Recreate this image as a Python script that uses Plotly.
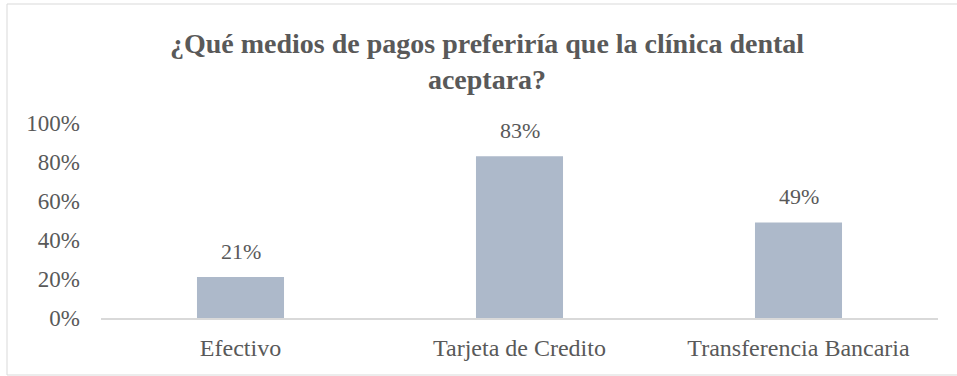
import plotly.graph_objects as go

categories = ["Efectivo", "Tarjeta de Credito", "Transferencia Bancaria"]
values = [0.21, 0.83, 0.49]
labels = ["21%", "83%", "49%"]
title_text = "<b>¿Qué medios de pagos preferiría que la clínica dental<br>aceptara?</b>"

W, H = 957, 376
L, R, T, B = 101, 19, 123, 58
pw, ph = W - L - R, H - T - B

text_color = "#595959"
font_family = "Liberation Serif, Times New Roman, serif"

fig = go.Figure()
fig.add_trace(go.Bar(
    x=categories, y=values,
    marker=dict(color="#adb9ca", line=dict(width=0)),
    hoverinfo="x+y",
))

for c, v, t in zip(categories, values, labels):
    fig.add_annotation(x=c, y=v, text=t, showarrow=False, yanchor="bottom",
                       yshift=11, font=dict(size=22, color=text_color, family=font_family))

# chart border
def px_to_paper_x(px):
    return (px - L) / pw

def px_to_paper_y(py):
    return (H - B - py) / ph

fig.add_shape(type="rect", xref="paper", yref="paper",
              x0=px_to_paper_x(7), x1=px_to_paper_x(962),
              y0=px_to_paper_y(375), y1=px_to_paper_y(4),
              line=dict(color="#d9d9d9", width=1), layer="below")

fig.update_layout(
    width=W, height=H,
    margin=dict(l=L, r=R, t=T, b=B),
    paper_bgcolor="white", plot_bgcolor="white",
    bargap=0.688,
    showlegend=False,
    font=dict(family=font_family, size=22, color=text_color),
    title=dict(text=title_text, x=px_to_paper_x(487), xref="paper", xanchor="center",
               y=1 - 53 / H, yref="container", yanchor="top",
               font=dict(size=28, color=text_color, family=font_family)),
    xaxis=dict(showline=True, linecolor="#d9d9d9", linewidth=2, showgrid=False,
               ticks="", ticklabelstandoff=7, tickfont=dict(size=24, color=text_color)),
    yaxis=dict(range=[0, 1], tickvals=[0, 0.2, 0.4, 0.6, 0.8, 1.0], tickformat=".0%",
               showgrid=False, showline=False, zeroline=False, ticks="",
               ticklabelstandoff=20, tickfont=dict(size=23, color=text_color)),
)

fig.write_html("out.html")
